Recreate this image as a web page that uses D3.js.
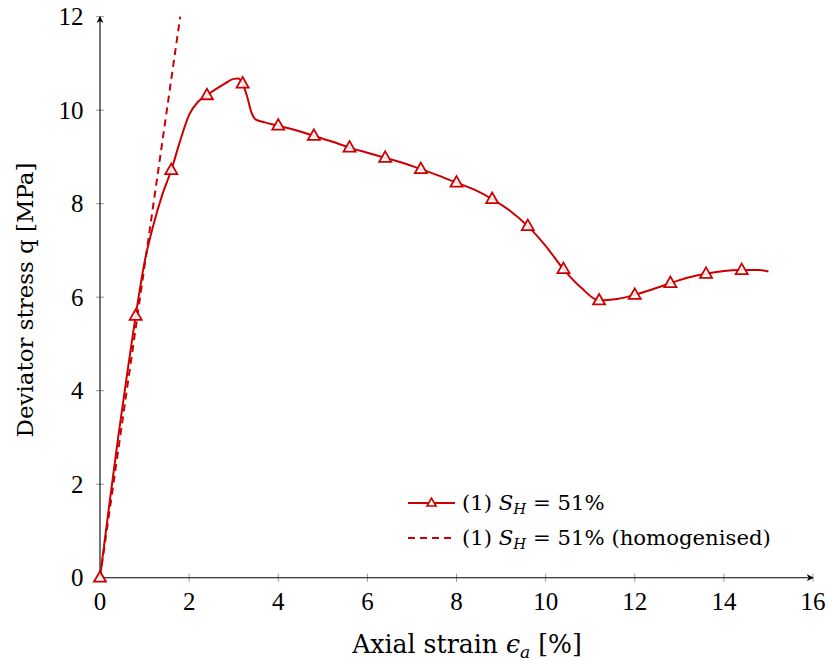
<!DOCTYPE html>
<html><head><meta charset="utf-8">
<script src="https://cdn.jsdelivr.net/npm/d3@7"></script>
<style>body{margin:0;background:#fff}</style>
</head><body>
<svg id="c" width="829" height="661"></svg>
<script>
// Solid curve (measured, dense)
const strainMeasured = [0,0.2,0.4,0.6,0.8,1.0,1.2,1.4,1.6,1.8,2.0,2.2,2.4,2.6,2.8,3.0,3.1,3.2,3.3,3.4,3.5,3.7,4.0,4.4,4.8,5.2,5.6,6.0,6.4,6.8,7.2,7.6,8.0,8.4,8.8,9.2,9.6,10.0,10.4,10.8,11.2,11.6,12.0,12.4,12.8,13.2,13.6,14.0,14.4,14.8,15.0];
const stressMeasured = [0,1.5,2.95,4.3,5.6,6.75,7.55,8.2,8.72,9.35,9.9,10.18,10.32,10.45,10.57,10.67,10.68,10.57,10.3,9.95,9.8,9.74,9.67,9.57,9.45,9.33,9.2,9.09,8.98,8.87,8.74,8.6,8.45,8.3,8.1,7.85,7.52,7.1,6.6,6.2,5.93,5.96,6.05,6.17,6.3,6.42,6.5,6.56,6.58,6.58,6.55];
// Marker positions (every 0.8 %)
const markerStrain = [0,0.8,1.6,2.4,3.2,4.0,4.8,5.6,6.4,7.2,8.0,8.8,9.6,10.4,11.2,12.0,12.8,13.6,14.4];
const markerStress = [0,5.6,8.72,10.32,10.57,9.67,9.45,9.2,8.98,8.74,8.45,8.1,7.52,6.6,5.93,6.05,6.3,6.5,6.58];
// Homogenised (linear)
const strainHomog = [0,1.8];
const stressHomog = [0,12];
const xTicks = [0,2,4,6,8,10,12,14,16];
const yTicks = [0,2,4,6,8,10,12];

const red = "#cc0000";
const numFont = "'Liberation Serif', serif";
const font = "'DejaVu Serif', serif";
const svg = d3.select("#c");
const x = d3.scaleLinear().domain([0,16]).range([100,813]);
const y = d3.scaleLinear().domain([0,12]).range([577.7,16.7]);

// fit a text element to a target width by adjusting its font size
function fit(sel, target){
  const w = sel.node().getBBox().width;
  const fs = parseFloat(sel.attr("font-size"));
  const k = target / w;
  sel.attr("font-size", fs*k);
  sel.selectAll("tspan").each(function(){
    const t = d3.select(this);
    if (t.attr("font-size")) t.attr("font-size", parseFloat(t.attr("font-size"))*k);
    if (t.attr("dy")) t.attr("dy", parseFloat(t.attr("dy"))*k);
  });
}

const defs = svg.append("defs");
defs.append("marker").attr("id","arr").attr("viewBox","0 0 10 10").attr("refX",9).attr("refY",5)
  .attr("markerWidth",7).attr("markerHeight",7).attr("markerUnits","userSpaceOnUse").attr("orient","auto")
  .append("path").attr("d","M0,0 L10,5 L0,10 L3,5 Z").attr("fill","#000");

// ticks
const g = svg.append("g");
g.selectAll(".xt").data(xTicks).join("line")
  .attr("x1",d=>x(d)).attr("x2",d=>x(d)).attr("y1",y(0)-4).attr("y2",y(0)+4)
  .attr("stroke","#999").attr("stroke-width",1);
g.selectAll(".yt").data(yTicks).join("line")
  .attr("y1",d=>y(d)).attr("y2",d=>y(d)).attr("x1",x(0)-4).attr("x2",x(0)+4)
  .attr("stroke","#999").attr("stroke-width",1);
// axis lines
g.append("line").attr("x1",x(0)).attr("x2",x(16)).attr("y1",y(0)).attr("y2",y(0))
  .attr("stroke","#000").attr("stroke-width",1.1).attr("marker-end","url(#arr)");
g.append("line").attr("x1",x(0)).attr("x2",x(0)).attr("y1",y(0)).attr("y2",y(12))
  .attr("stroke","#000").attr("stroke-width",1.1).attr("marker-end","url(#arr)");
// tick labels
g.selectAll(".xl").data(xTicks).join("text")
  .attr("x",d=>x(d)).attr("y",y(0)+32.5).attr("text-anchor","middle")
  .attr("font-family",numFont).attr("font-size",25).text(d=>d);
g.selectAll(".yl").data(yTicks).join("text")
  .attr("x",x(0)-16.5).attr("y",d=>y(d)+8.5).attr("text-anchor","end")
  .attr("font-family",numFont).attr("font-size",25).text(d=>d);

// axis titles
const xt = svg.append("text").attr("x",467).attr("y",653).attr("text-anchor","middle")
  .attr("font-family",font).attr("font-size",22);
xt.append("tspan").text("Axial strain ");
xt.append("tspan").attr("font-style","italic").text("ϵ");
xt.append("tspan").attr("font-style","italic").attr("font-size",15).attr("dy",4).text("a");
xt.append("tspan").attr("dy",-4).text(" [%]");
fit(xt, 231);
const yt = svg.append("text").attr("transform","translate(33,300) rotate(-90)").attr("text-anchor","middle")
  .attr("font-family",font).attr("font-size",22).text("Deviator stress q [MPa]");
fit(yt, 275);

// lines
const line = d3.line().x(d=>x(d[0])).y(d=>y(d[1])).curve(d3.curveMonotoneX);
svg.append("path").datum(strainHomog.map((s,i)=>[s,stressHomog[i]]))
  .attr("d",d3.line().x(d=>x(d[0])).y(d=>y(d[1]))).attr("fill","none")
  .attr("stroke",red).attr("stroke-width",2).attr("stroke-dasharray","7,5");
svg.append("path").datum(strainMeasured.map((s,i)=>[s,stressMeasured[i]]))
  .attr("d",line).attr("fill","none").attr("stroke",red).attr("stroke-width",2);
const tri = "M0,-6.5 L6,4 L-6,4 Z";
svg.selectAll(".m").data(markerStrain.map((s,i)=>[s,markerStress[i]])).join("path")
  .attr("transform",d=>`translate(${x(d[0])},${y(d[1])})`).attr("d",tri)
  .attr("fill","#fff").attr("fill-opacity",0.85).attr("stroke",red).attr("stroke-width",1.8);

// legend
const lg = svg.append("g");
lg.append("line").attr("x1",408).attr("x2",455).attr("y1",503).attr("y2",503).attr("stroke",red).attr("stroke-width",2);
lg.append("path").attr("d",tri).attr("transform","translate(431.5,503) scale(0.75)").attr("fill","#fff")
  .attr("stroke",red).attr("stroke-width",2.2);
lg.append("line").attr("x1",408).attr("x2",455).attr("y1",538).attr("y2",538).attr("stroke",red).attr("stroke-width",2).attr("stroke-dasharray","7,5");
function legText(yy, extra){
  const t = lg.append("text").attr("x",462).attr("y",yy).attr("font-family",font).attr("font-size",20);
  t.append("tspan").text("(1) ");
  t.append("tspan").attr("font-style","italic").text("S");
  t.append("tspan").attr("font-style","italic").attr("font-size",14).attr("dy",4).text("H");
  t.append("tspan").attr("dy",-4).text(" = 51%" + extra);
  return t;
}
const l1 = legText(510,"");
const l2 = legText(545," (homogenised)");
const w2 = l2.node().getBBox().width;
const k = 309 / w2;
[l1,l2].forEach(t=>{
  t.attr("font-size",20*k);
  t.selectAll("tspan").each(function(){
    const s = d3.select(this);
    if (s.attr("font-size")) s.attr("font-size",14*k);
    if (s.attr("dy")) s.attr("dy",parseFloat(s.attr("dy"))*k);
  });
});
</script>
</body></html>
